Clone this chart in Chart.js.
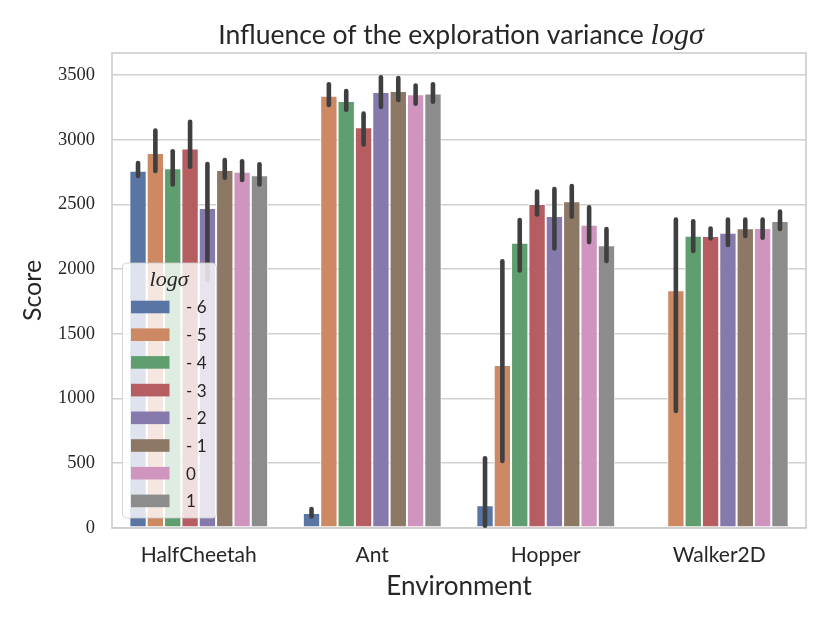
<!DOCTYPE html>
<html>
<head>
<meta charset="utf-8">
<script src="https://cdn.jsdelivr.net/npm/chart.js@4/dist/chart.umd.min.js"></script>
<style>
  html, body { margin: 0; padding: 0; background: #ffffff; }
  #wrap { width: 830px; height: 623px; }
</style>
</head>
<body>
<div id="wrap"><canvas id="chart" width="830" height="623"></canvas></div>
<script>
(function () {
  "use strict";

  var categories = ["HalfCheetah", "Ant", "Hopper", "Walker2D"];
  var seriesLabels = ["- 6", "- 5", "- 4", "- 3", "- 2", "- 1", "0", "1"];
  var seriesColors = ["#5975a4", "#cc8963", "#5f9e6e", "#b55d60", "#857aab", "#8d7866", "#d095bf", "#8c8c8c"];
  var yTicks = [0, 500, 1000, 1500, 2000, 2500, 3000, 3500];

  // mean score per environment, one array per log sigma level
  var scoreM6 = [2760, 116, 175, null];
  var scoreM5 = [2897, 3340, 1259, 1836];
  var scoreM4 = [2779, 3299, 2204, 2258];
  var scoreM3 = [2933, 3096, 2503, 2256];
  var scoreM2 = [2472, 3369, 2410, 2282];
  var scoreM1 = [2766, 3376, 2524, 2315];
  var score0 = [2753, 3351, 2343, 2318];
  var score1 = [2725, 3358, 2184, 2372];

  // confidence interval ends
  var lowM6 = [2702, 72, 0, null];
  var lowM5 = [2740, 3250, 500, 886];
  var lowM4 = [2637, 3214, 1972, 2122];
  var lowM3 = [2774, 2946, 2405, 2220];
  var lowM2 = [1900, 3235, 2142, 2169];
  var lowM1 = [2689, 3289, 2387, 2238];
  var low0 = [2671, 3260, 2191, 2225];
  var low1 = [2637, 3276, 2045, 2292];

  var highM6 = [2838, 165, 556, null];
  var highM5 = [3088, 3446, 2078, 2400];
  var highM4 = [2928, 3394, 2397, 2387];
  var highM3 = [3157, 3219, 2617, 2331];
  var highM2 = [2830, 3500, 2637, 2400];
  var highM1 = [2861, 3495, 2660, 2400];
  var high0 = [2851, 3436, 2495, 2400];
  var high1 = [2828, 3446, 2328, 2462];

  var scores = [scoreM6, scoreM5, scoreM4, scoreM3, scoreM2, scoreM1, score0, score1];
  var lows = [lowM6, lowM5, lowM4, lowM3, lowM2, lowM1, low0, low1];
  var highs = [highM6, highM5, highM4, highM3, highM2, highM1, high0, high1];

  var SANS = "Lato, 'Open Sans', sans-serif";
  var SERIF = "'Liberation Serif', 'DejaVu Serif', serif";
  var GRID = "#d0d0d0";
  var TEXT = "#262626";

  var datasets = scores.map(function (vals, i) {
    return {
      label: seriesLabels[i],
      data: vals,
      backgroundColor: seriesColors[i],
      borderColor: "#ffffff",
      borderWidth: 1,
      borderSkipped: false,
      barPercentage: 1,
      categoryPercentage: 0.8,
    };
  });

  var errorBars = {
    id: "errorBars",
    afterDatasetsDraw: function (chart) {
      var ctx = chart.ctx;
      var y = chart.scales.y;
      ctx.save();
      ctx.strokeStyle = "#3f3f3f";
      ctx.lineWidth = 4.6;
      ctx.lineCap = "round";
      for (var i = 0; i < scores.length; i++) {
        var meta = chart.getDatasetMeta(i);
        for (var j = 0; j < categories.length; j++) {
          if (lows[i][j] === null) continue;
          var x = meta.data[j].x;
          var top = y.getPixelForValue(highs[i][j]) + 2.3;
          var bot = y.getPixelForValue(lows[i][j]) - 2.3;
          ctx.beginPath();
          ctx.moveTo(x, top);
          ctx.lineTo(x, bot);
          ctx.stroke();
        }
      }
      ctx.restore();
    },
  };

  var frame = {
    id: "frame",
    beforeDatasetsDraw: function (chart) {
      var a = chart.chartArea;
      var ctx = chart.ctx;
      ctx.save();
      ctx.strokeStyle = "#cccccc";
      ctx.lineWidth = 1.6;
      ctx.strokeRect(a.left, a.top, a.right - a.left, a.bottom - a.top);
      ctx.restore();
    },
  };

  var titleAndLegend = {
    id: "titleAndLegend",
    afterDraw: function (chart) {
      var ctx = chart.ctx;
      ctx.save();

      // title, with the math part in italic serif
      var t1 = "Influence of the exploration variance ";
      var t2 = "log\u03c3";
      var f1 = "26.5px " + SANS;
      var f2 = "italic 30px " + SERIF;
      ctx.textBaseline = "alphabetic";
      ctx.fillStyle = TEXT;
      ctx.font = f1;
      var w1 = ctx.measureText(t1).width;
      ctx.font = f2;
      var w2 = ctx.measureText(t2).width;
      var x0 = 461 - (w1 + w2) / 2;
      ctx.textAlign = "left";
      ctx.font = f1;
      ctx.fillText(t1, x0, 43.5);
      ctx.font = f2;
      ctx.fillText(t2, x0 + w1, 43.5);

      // legend box
      var lx = 122.5, ly = 263, lw = 94, lh = 255, r = 4;
      ctx.beginPath();
      ctx.moveTo(lx + r, ly);
      ctx.arcTo(lx + lw, ly, lx + lw, ly + lh, r);
      ctx.arcTo(lx + lw, ly + lh, lx, ly + lh, r);
      ctx.arcTo(lx, ly + lh, lx, ly, r);
      ctx.arcTo(lx, ly, lx + lw, ly, r);
      ctx.closePath();
      ctx.fillStyle = "rgba(255,255,255,0.8)";
      ctx.fill();
      ctx.strokeStyle = "rgba(204,204,204,0.8)";
      ctx.lineWidth = 1;
      ctx.stroke();

      ctx.fillStyle = TEXT;
      ctx.textAlign = "center";
      ctx.textBaseline = "middle";
      ctx.font = "italic 22px " + SERIF;
      ctx.fillText("log\u03c3", 169, 280);

      ctx.font = "17px " + SANS;
      ctx.textAlign = "left";
      for (var i = 0; i < seriesLabels.length; i++) {
        var cy = 307 + i * 27.7;
        ctx.fillStyle = seriesColors[i];
        ctx.fillRect(131, cy - 6.3, 38.5, 12.6);
        ctx.fillStyle = TEXT;
        ctx.fillText(seriesLabels[i], 186, cy + 1);
      }
      ctx.restore();
    },
  };

  new Chart(document.getElementById("chart"), {
    type: "bar",
    data: { labels: categories, datasets: datasets },
    options: {
      responsive: false,
      animation: false,
      devicePixelRatio: 1,
      layout: { padding: { left: 0, top: 53, right: 24, bottom: 0 } },
      plugins: {
        legend: { display: false },
        tooltip: { enabled: false },
        title: { display: false },
      },
      scales: {
        x: {
          grid: { display: false, drawTicks: false },
          border: { display: false },
          ticks: { color: TEXT, font: { family: SANS, size: 21 }, padding: 15 },
          title: {
            display: true,
            text: "Environment",
            color: TEXT,
            font: { family: SANS, size: 26 },
            padding: { top: 0, bottom: 21 },
          },
          afterFit: function (s) { s.height = 95; },
        },
        y: {
          min: 0,
          max: 3670,
          grid: { color: GRID, lineWidth: 1.6, drawTicks: false },
          border: { display: false },
          ticks: {
            color: TEXT,
            font: { family: SERIF, size: 18.5 },
            padding: 17,
            callback: function (v) { return String(v); },
          },
          afterBuildTicks: function (s) {
            s.ticks = yTicks.map(function (v) { return { value: v }; });
          },
          title: {
            display: true,
            text: "Score",
            color: TEXT,
            font: { family: SANS, size: 25 },
            padding: { top: 18, bottom: 0 },
          },
          afterFit: function (s) { s.width = 112; },
        },
      },
    },
    plugins: [frame, errorBars, titleAndLegend],
  });
})();
</script>
</body>
</html>
